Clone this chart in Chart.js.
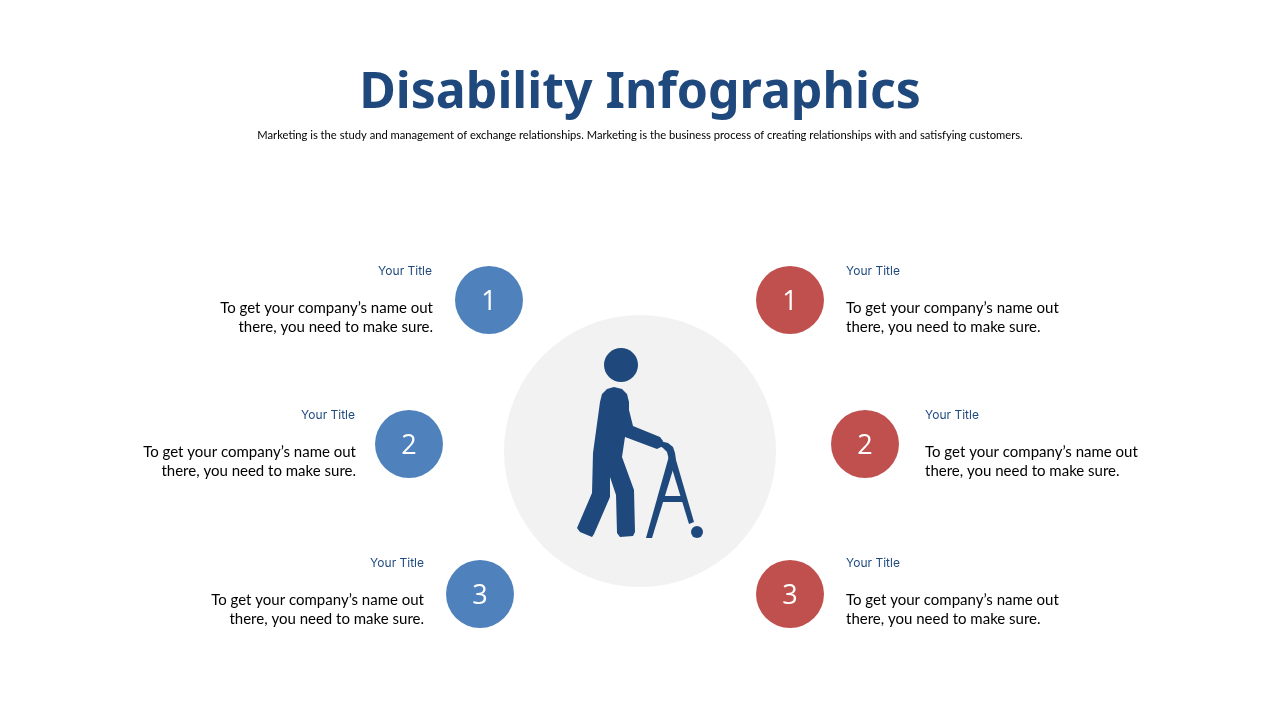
<!DOCTYPE html>
<html>
<head>
<meta charset="utf-8">
<title>Disability Infographics</title>
<script src="https://cdn.jsdelivr.net/npm/chart.js@4/dist/chart.umd.min.js"></script>
<style>
  html, body { margin: 0; padding: 0; background: #fff; }
  canvas { display: block; }
</style>
</head>
<body>
<canvas id="chartId" width="1280" height="720"></canvas>
<script>
// in picture units (0-1280, 0-720)
const mainTitle = 'Disability Infographics';
const subTitle = 'Marketing is the study and management of exchange relationships. Marketing is the business process of creating relationships with and satisfying customers.';
const itemTitle = 'Your Title';
const itemLines = ['To get your company\u2019s name out', 'there, you need to make sure.'];
const stepLabels = ['1', '2', '3'];

const leftPoints = [{x: 489, y: 300, r: 34}, {x: 409, y: 444, r: 34}, {x: 480, y: 594, r: 34}];
const rightPoints = [{x: 790, y: 300, r: 34}, {x: 865, y: 444, r: 34}, {x: 790, y: 594, r: 34}];
const discPoint = [{x: 640, y: 451, r: 136}];
const figurePoints = [{x: 621, y: 365, r: 17}, {x: 697, y: 532, r: 6}];

const leftTextEdge = [433, 356, 424];
const leftTitleEdge = [432, 355, 424];
const rightTextEdge = [846, 925, 846];
const titleRows = [271, 415, 563];
const lineRows = [[308, 327], [452, 471], [600, 619]];

// figure outlines, as [x, y] pairs
const bodyOutline = [[600,402],[602,394],[607,389],[614,387],[622,389],[627,394],[629,402],[629,410],[633,426],[660,437],[663,441],[661,447],[657,449],[625,437],[622,457],[634,490],[635,532],[633,536],[620,537],[617,533],[616,495],[610,477],[610,497],[594,534],[592,537],[580,532],[577,528],[592,493],[593,453],[600,402]];
const handleOutline = [[660,441],[668,443],[673,447],[675,453],[676,460],[669,460],[667,452],[663,448],[660,446]];
const frontLeg = [[669,456],[676,460],[652,538],[646,538]];
const backLeg = [[670,462],[676,460],[694,522],[689,524]];
const crossBar = [[661,496],[683,496],[685,502],[659,502]];

const navy = '#1F497D';
const blue = '#4F81BD';
const red = '#C0504D';
const grey = '#F2F2F2';

const toPoints = (pairs) => pairs.map(([x, y]) => ({x, y}));

const shape = (pairs) => ({
    type: 'line',
    data: toPoints(pairs),
    borderWidth: 0,
    pointRadius: 0,
    tension: 0,
    fill: 'shape',
    backgroundColor: navy,
    order: 1,
});

const textPlugin = {
    id: 'slideText',
    afterDatasetsDraw(chart) {
        const ctx = chart.ctx;
        const sx = chart.scales.x;
        const sy = chart.scales.y;

        const put = (text, x, y, font, color, align) => {
            ctx.font = font;
            ctx.fillStyle = color;
            ctx.textAlign = align;
            ctx.textBaseline = 'middle';
            ctx.fillText(text, sx.getPixelForValue(x), sy.getPixelForValue(y));
        };

        ctx.save();
        put(mainTitle, 640, 94, 'bold 50px "Noto Sans"', navy, 'center');
        put(subTitle, 640, 135, '11.2px Lato', '#000', 'center');

        titleRows.forEach((row, i) => {
            put(itemTitle, leftTitleEdge[i], row, '12px Inter', navy, 'right');
            put(itemTitle, rightTextEdge[i], row, '12px Inter', navy, 'left');
            lineRows[i].forEach((lineY, j) => {
                put(itemLines[j], leftTextEdge[i], lineY, '15px Lato', '#000', 'right');
                put(itemLines[j], rightTextEdge[i], lineY, '15px Lato', '#000', 'left');
            });
            put(stepLabels[i], leftPoints[i].x, leftPoints[i].y + 2, '27px "Open Sans"', '#fff', 'center');
            put(stepLabels[i], rightPoints[i].x, rightPoints[i].y + 2, '27px "Open Sans"', '#fff', 'center');
        });
        ctx.restore();
    },
};

new Chart(document.getElementById('chartId').getContext('2d'), {
    type: 'bubble',
    data: {
        datasets: [
            {data: discPoint, backgroundColor: grey, borderWidth: 0, order: 5},
            {data: leftPoints, backgroundColor: blue, borderWidth: 0, order: 2},
            {data: rightPoints, backgroundColor: red, borderWidth: 0, order: 2},
            {data: figurePoints, backgroundColor: navy, borderWidth: 0, order: 1},
            shape(bodyOutline),
            shape(handleOutline),
            shape(frontLeg),
            shape(backLeg),
            shape(crossBar),
        ],
    },
    options: {
        responsive: false,
        animation: false,
        layout: {padding: 0, autoPadding: false},
        scales: {
            x: {type: 'linear', min: 0, max: 1280, display: false},
            y: {type: 'linear', min: 0, max: 720, reverse: true, display: false},
        },
        plugins: {
            legend: {display: false},
            tooltip: {enabled: false},
        },
    },
    plugins: [textPlugin],
});
</script>
</body>
</html>
